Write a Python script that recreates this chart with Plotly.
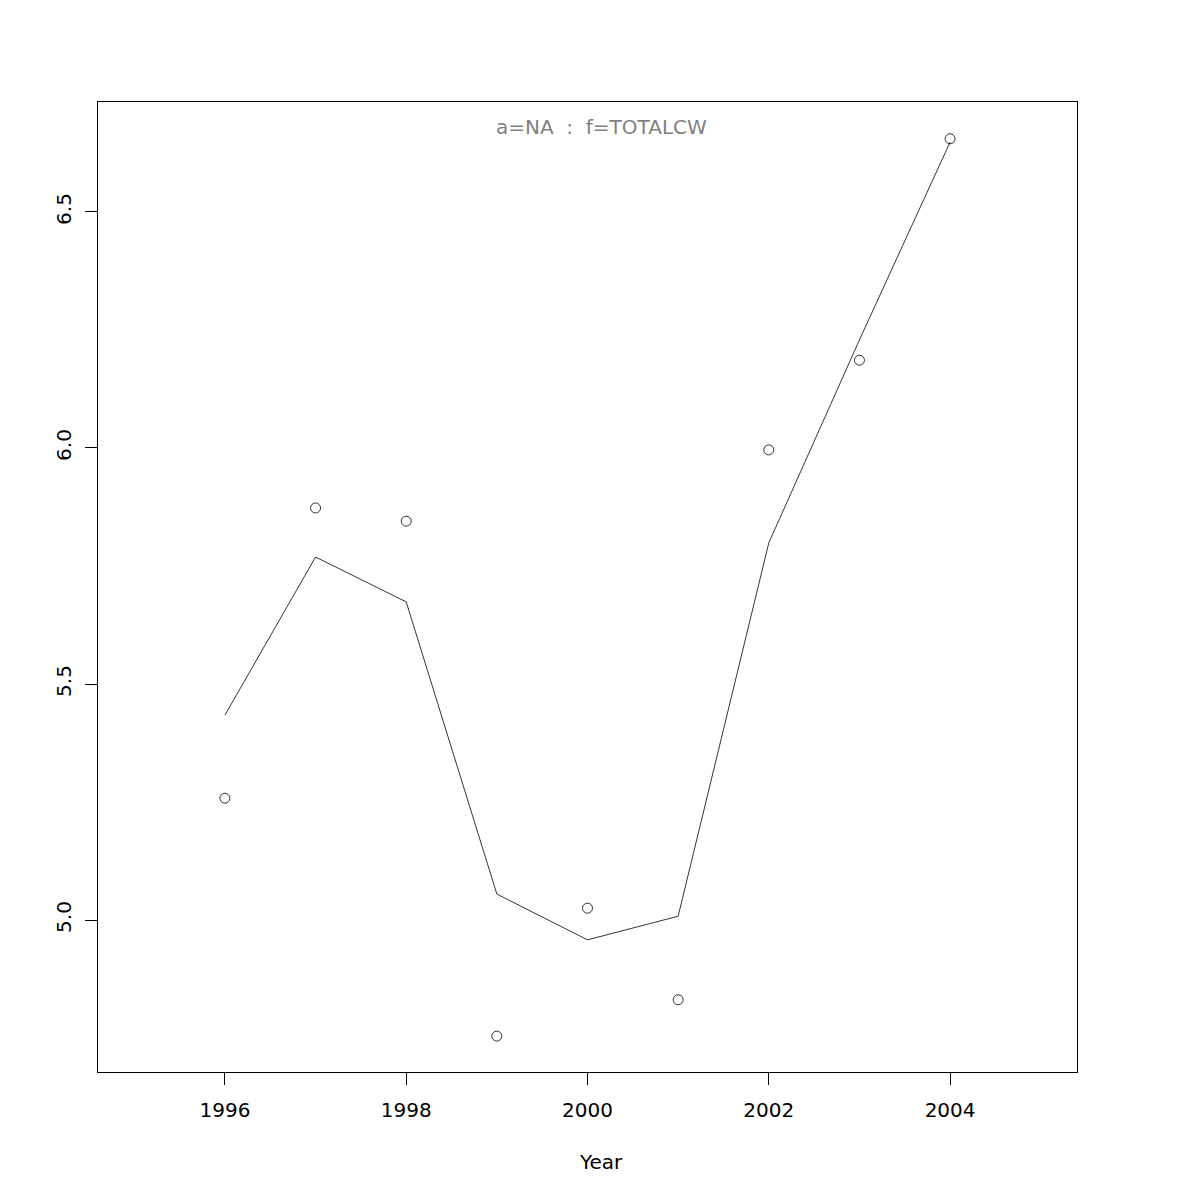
import plotly.graph_objects as go

years = [1996, 1997, 1998, 1999, 2000, 2001, 2002, 2003, 2004]
observed = [5.258, 5.873, 5.845, 4.754, 5.025, 4.831, 5.996, 6.186, 6.655]
fitted = [5.434, 5.769, 5.674, 5.055, 4.958, 5.008, 5.799, 6.229, 6.648]
x_ticks = [1996, 1998, 2000, 2002, 2004]
y_ticks = [5.0, 5.5, 6.0, 6.5]
y_tick_labels = ["5.0", "5.5", "6.0", "6.5"]
title_text = "a=NA  :  f=TOTALCW"
x_label = "Year"

font = "DejaVu Sans"

fig = go.Figure()
fig.add_trace(go.Scatter(x=years, y=fitted, mode="lines",
                         line=dict(color="black", width=0.8), showlegend=False))
fig.add_trace(go.Scatter(x=years, y=observed, mode="markers",
                         marker=dict(symbol="circle-open", size=10, color="black",
                                     line=dict(width=0.8, color="black")),
                         showlegend=False))

cx = (601 - 98) / 979
fig.add_annotation(text=title_text, xref="paper", yref="paper", x=cx, y=(1072 - 127) / 970,
                   xanchor="center", yanchor="middle", showarrow=False,
                   font=dict(family=font, size=20, color="#808080"))
fig.add_annotation(text=x_label, xref="paper", yref="paper", x=cx, y=(1072 - 1162) / 970,
                   xanchor="center", yanchor="middle", showarrow=False,
                   font=dict(family=font, size=20, color="black"))

fig.update_layout(
    width=1200, height=1200,
    margin=dict(l=90, r=131, t=94, b=136),
    paper_bgcolor="white", plot_bgcolor="white",
    font=dict(family=font, size=20, color="black"),
    xaxis=dict(range=[1994.6, 2005.4], tickvals=x_ticks, ticktext=[str(v) for v in x_ticks],
               showgrid=False, zeroline=False, showline=True, mirror=True,
               linecolor="black", linewidth=1, ticks="outside", ticklen=12,
               tickcolor="black", tickwidth=1, ticklabelstandoff=8),
    yaxis=dict(range=[4.678, 6.733], tickvals=y_ticks, ticktext=y_tick_labels,
               showgrid=False, zeroline=False, showline=True, mirror=True,
               linecolor="black", linewidth=1, ticks="outside", ticklen=12,
               tickcolor="black", tickwidth=1, tickangle=-90, ticklabelstandoff=6),
)

fig.write_html("out.html")
